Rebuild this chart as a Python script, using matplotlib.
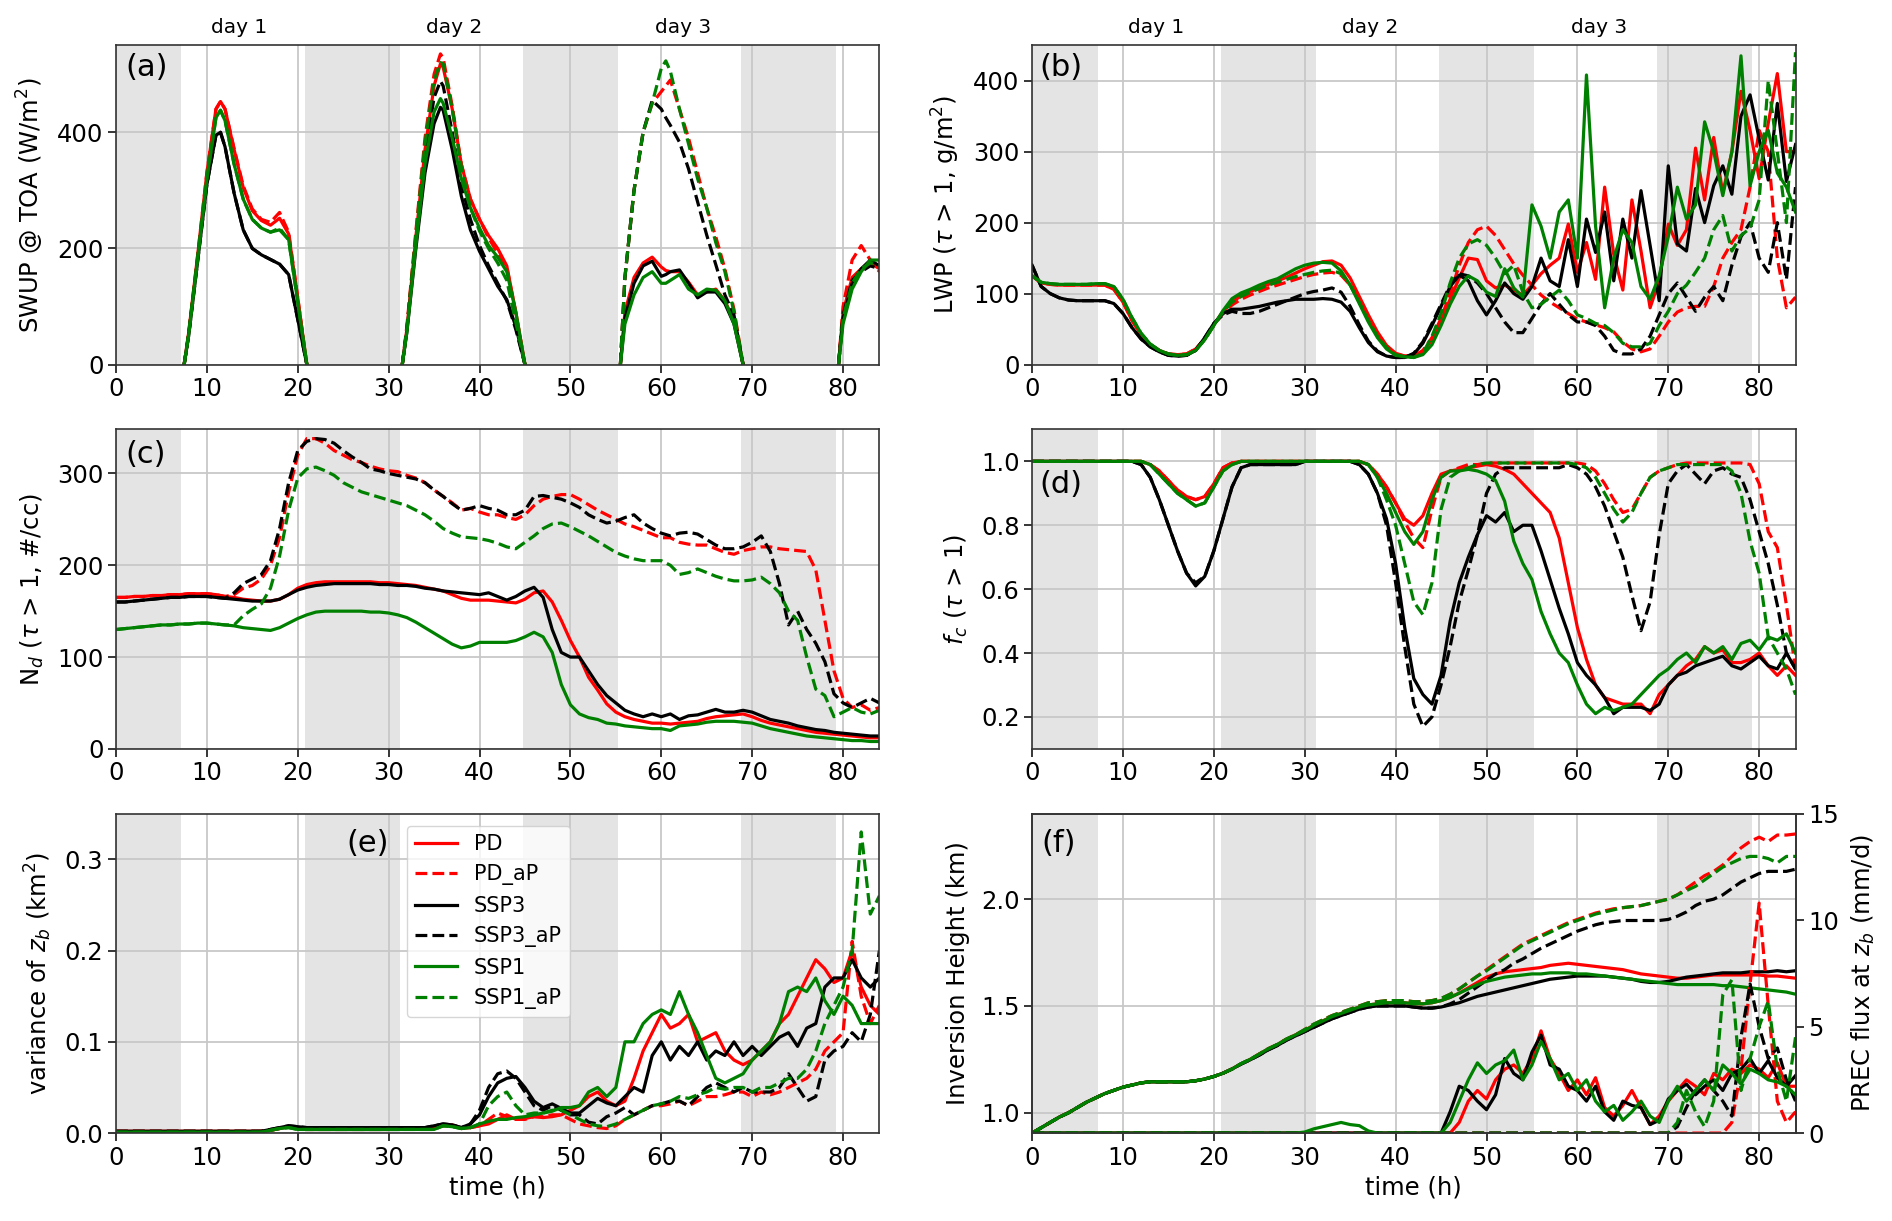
import numpy as np
import matplotlib
matplotlib.use("Agg")
import matplotlib.pyplot as plt

nan = np.nan

HOURS = np.arange(85)
NIGHTS = [(0, 7.2), (20.8, 31.2), (44.8, 55.2), (68.8, 79.2)]
DAY_NAMES = ["day 1", "day 2", "day 3"]
DAY_X = [13.6, 37.2, 62.4]

RUNS = ["PD", "PD_aP", "SSP3", "SSP3_aP", "SSP1", "SSP1_aP"]
COLORS = ["red", "red", "black", "black", "green", "green"]
STYLES = ["-", "--", "-", "--", "-", "--"]

# (a) SWUP @ TOA, daylight only
TIME_A = [7.5, 8, 9, 10, 11, 11.5, 12, 13, 14, 15, 16, 17, 18, 19, 20, 21, nan,
          31.5, 32, 33, 34, 35, 35.7, 36, 37, 38, 39, 40, 41, 42, 43, 44, 45, nan,
          55.5, 56, 57, 58, 59, 60, 60.5, 61, 62, 63, 64, 65, 66, 67, 68, 69, nan,
          79.5, 80, 81, 82, 83, 84]
pd_a = [0, 55, 190, 330, 440, 453, 440, 370, 305, 265, 248, 240, 252, 225, 115, 0, nan,
        0, 60, 220, 370, 480, 518, 512, 440, 345, 285, 250, 222, 200, 170, 90, 0, nan,
        0, 90, 150, 175, 185, 168, 162, 160, 160, 142, 120, 125, 130, 110, 75, 0, nan,
        0, 90, 150, 165, 175, 165]
pd_ap_a = [0, 55, 190, 330, 440, 453, 440, 372, 308, 268, 250, 245, 262, 228, 115, 0, nan,
           0, 65, 230, 390, 500, 535, 528, 445, 345, 285, 250, 218, 192, 168, 88, 0, nan,
           0, 150, 300, 400, 450, 470, 480, 490, 440, 390, 330, 270, 220, 165, 95, 0, nan,
           0, 100, 180, 205, 180, 160]
ssp3_a = [0, 50, 180, 310, 395, 400, 375, 295, 232, 200, 189, 181, 173, 155, 78, 0, nan,
          0, 55, 200, 330, 415, 443, 438, 370, 290, 232, 195, 165, 135, 112, 65, 0, nan,
          0, 80, 140, 170, 178, 152, 155, 160, 163, 140, 115, 125, 125, 105, 70, 0, nan,
          0, 80, 140, 165, 180, 170]
ssp3_ap_a = [0, 50, 180, 310, 395, 400, 375, 295, 232, 200, 189, 181, 173, 155, 78, 0, nan,
             0, 60, 215, 360, 460, 488, 480, 400, 310, 250, 205, 170, 140, 110, 60, 0, nan,
             0, 150, 300, 400, 455, 440, 425, 412, 383, 337, 280, 223, 172, 120, 85, 0, nan,
             0, 85, 145, 160, 170, 165]
ssp1_a = [0, 52, 185, 320, 425, 438, 420, 345, 285, 250, 235, 228, 232, 215, 108, 0, nan,
          0, 55, 205, 345, 435, 458, 450, 390, 320, 270, 235, 205, 185, 160, 90, 0, nan,
          0, 70, 120, 150, 160, 140, 140, 145, 155, 130, 120, 130, 128, 110, 70, 0, nan,
          0, 70, 130, 160, 180, 180]
ssp1_ap_a = [0, 52, 185, 320, 425, 438, 420, 345, 285, 250, 235, 228, 235, 215, 108, 0, nan,
             0, 60, 225, 380, 490, 520, 518, 440, 340, 270, 230, 200, 175, 145, 72, 0, nan,
             0, 150, 300, 400, 450, 510, 523, 505, 440, 380, 320, 270, 210, 160, 90, 0, nan,
             0, 80, 140, 165, 175, 170]

# (b) LWP
pd_b = [125, 115, 113, 112, 112, 112, 112, 112, 112, 106,
        88, 62, 42, 28, 20, 15, 14, 15, 22, 36,
        56, 75, 88, 97, 103, 108, 113, 118, 123, 129,
        135, 140, 145, 146, 140, 122, 96, 70, 46, 27,
        16, 12, 12, 18, 35, 62, 92, 122, 150, 148,
        118, 108, 112, 105, 98, 112, 128, 140, 150, 198,
        130, 172, 120, 250, 155, 105, 232, 160, 80, 118,
        198, 168, 190, 305, 232, 320, 242, 300, 385, 330,
        262, 340, 410, 300, 300]
pd_ap_b = [125, 115, 113, 112, 112, 112, 112, 112, 112, 106,
           88, 62, 42, 28, 20, 15, 14, 15, 22, 36,
           56, 72, 84, 92, 98, 103, 108, 112, 116, 120,
           124, 127, 129, 130, 126, 112, 90, 66, 44, 26,
           15, 12, 12, 20, 38, 65, 100, 140, 172, 190,
           195, 182, 162, 142, 126, 112, 98, 88, 80, 72,
           64, 60, 56, 52, 46, 32, 22, 18, 22, 40,
           60, 74, 80, 82, 82, 110, 150, 172, 190, 250,
           330, 300, 150, 80, 95]
ssp3_b = [140, 110, 100, 94, 91, 90, 90, 90, 90, 86,
          72, 52, 36, 25, 18, 13, 12, 13, 20, 38,
          58, 72, 78, 78, 80, 82, 85, 88, 90, 92,
          92, 92, 93, 92, 88, 75, 52, 31, 18, 12,
          10, 10, 15, 30, 55, 82, 110, 126, 118, 90,
          70, 90, 115, 100, 92, 110, 150, 118, 110, 176,
          110, 205, 158, 215, 118, 205, 150, 245, 168, 90,
          280, 170, 160, 248, 200, 252, 280, 240, 350, 380,
          318, 260, 368, 258, 310]
ssp3_ap_b = [140, 110, 100, 94, 91, 90, 90, 90, 90, 86,
             72, 52, 36, 25, 18, 13, 12, 13, 20, 38,
             58, 70, 75, 72, 72, 75, 80, 85, 90, 95,
             100, 103, 105, 108, 102, 82, 56, 33, 19, 12,
             10, 10, 16, 32, 58, 85, 112, 128, 125, 115,
             100, 80, 60, 45, 45, 65, 85, 100, 85, 70,
             60, 60, 55, 40, 20, 15, 15, 22, 40, 70,
             100, 115, 95, 75, 95, 110, 90, 140, 180, 200,
             150, 130, 200, 120, 250]
ssp1_b = [125, 116, 114, 113, 113, 113, 113, 114, 114, 110,
          92, 66, 44, 29, 20, 15, 13, 14, 20, 35,
          55, 76, 93, 101, 106, 112, 117, 121, 128, 135,
          140, 143, 144, 143, 132, 112, 86, 60, 38, 22,
          13, 11, 10, 14, 28, 55, 85, 110, 125, 118,
          102, 96, 135, 108, 95, 225, 195, 150, 215, 232,
          150, 408, 195, 80, 150, 190, 172, 110, 92, 125,
          180, 250, 205, 225, 342, 300, 238, 300, 435, 252,
          300, 330, 270, 250, 215]
ssp1_ap_b = [125, 116, 114, 113, 113, 113, 113, 114, 114, 110,
             92, 66, 44, 29, 20, 15, 13, 14, 20, 35,
             55, 74, 88, 96, 102, 107, 112, 116, 120, 124,
             127, 130, 132, 133, 128, 112, 88, 62, 40, 24,
             14, 11, 10, 16, 40, 72, 115, 150, 170, 176,
             168, 150, 128, 140, 102, 80, 85, 95, 105, 90,
             70, 65, 58, 55, 45, 30, 25, 25, 30, 55,
             75, 100, 112, 130, 150, 190, 210, 160, 182, 192,
             232, 400, 300, 200, 440]

# (c) droplet number
pd_c = [165, 165, 166, 166, 167, 167, 168, 168, 169, 169,
        169, 168, 166, 165, 163, 162, 161, 161, 163, 168,
        175, 179, 181, 182, 182, 182, 182, 182, 182, 181,
        181, 180, 179, 178, 176, 174, 172, 168, 164, 162,
        162, 162, 161, 160, 159, 163, 170, 172, 160, 140,
        118, 100, 78, 64, 49, 40, 35, 32, 30, 28,
        28, 27, 28, 29, 30, 33, 35, 36, 37, 38,
        35, 31, 28, 26, 24, 22, 20, 18, 17, 16,
        15, 14, 13, 12, 12]
pd_ap_c = [165, 165, 166, 166, 167, 167, 168, 168, 169, 169,
           169, 168, 166, 168, 175, 178, 185, 200, 230, 280,
           320, 338, 338, 333, 325, 320, 315, 312, 308, 305,
           303, 302, 298, 295, 290, 282, 275, 268, 260, 262,
           258, 255, 255, 252, 250, 255, 265, 272, 275, 277,
           277, 272, 266, 260, 255, 250, 245, 242, 238, 234,
           230, 230, 225, 223, 222, 222, 218, 214, 212, 216,
           218, 220, 220, 218, 217, 216, 215, 195, 140, 85,
           55, 45, 48, 42, 45]
ssp3_c = [160, 160, 161, 162, 163, 164, 165, 165, 166, 166,
          166, 165, 164, 163, 162, 161, 161, 161, 163, 168,
          173, 176, 178, 179, 180, 180, 180, 180, 180, 179,
          179, 178, 178, 177, 175, 174, 172, 171, 170, 169,
          168, 170, 166, 162, 166, 172, 176, 165, 130, 105,
          100, 100, 85, 70, 58, 50, 42, 38, 35, 38,
          35, 38, 32, 36, 37, 40, 43, 40, 40, 42,
          40, 36, 32, 30, 28, 25, 23, 21, 20, 18,
          17, 16, 15, 14, 14]
ssp3_ap_c = [160, 160, 161, 162, 163, 164, 165, 165, 166, 166,
             166, 165, 164, 170, 180, 185, 190, 205, 240, 290,
             325, 335, 338, 337, 333, 325, 318, 312, 305, 303,
             300, 298, 296, 294, 290, 282, 275, 267, 260, 262,
             265, 262, 260, 255, 255, 260, 275, 276, 274, 272,
             268, 263, 255, 250, 246, 248, 252, 255, 246, 240,
             235, 232, 235, 236, 234, 228, 222, 218, 218, 220,
             225, 232, 215, 180, 135, 150, 130, 115, 95, 60,
             50, 45, 50, 55, 50]
ssp1_c = [130, 131, 132, 133, 134, 135, 135, 136, 136, 137,
          137, 136, 135, 134, 132, 131, 130, 129, 132, 137,
          142, 146, 149, 150, 150, 150, 150, 150, 149, 149,
          148, 146, 143, 138, 132, 126, 120, 114, 110, 112,
          116, 116, 116, 116, 118, 122, 127, 122, 105, 70,
          48, 38, 34, 32, 28, 27, 25, 24, 23, 22,
          22, 20, 25, 26, 27, 29, 30, 30, 30, 29,
          28, 25, 22, 20, 18, 16, 14, 13, 12, 11,
          10, 9, 9, 8, 8]
ssp1_ap_c = [130, 131, 132, 133, 134, 135, 135, 136, 136, 137,
             137, 136, 135, 135, 145, 152, 158, 175, 210, 260,
             295, 305, 307, 303, 298, 290, 285, 280, 277, 274,
             271, 268, 265, 260, 255, 248, 240, 235, 231, 230,
             229, 227, 224, 220, 218, 225, 232, 240, 245, 246,
             242, 237, 232, 226, 220, 214, 210, 207, 205, 205,
             205, 200, 190, 192, 196, 192, 188, 185, 183, 183,
             184, 187, 180, 170, 150, 140, 100, 65, 58, 35,
             40, 45, 40, 38, 42]

# (d) cloud fraction
pd_d = [1.0, 1.0, 1.0, 1.0, 1.0, 1.0, 1.0, 1.0, 1.0, 1.0,
        1.0, 1.0, 1.0, 0.99, 0.97, 0.94, 0.91, 0.89, 0.88, 0.89,
        0.93, 0.98, 0.995, 1.0, 1.0, 1.0, 1.0, 1.0, 1.0, 1.0,
        1.0, 1.0, 1.0, 1.0, 1.0, 1.0, 1.0, 0.99, 0.96, 0.92,
        0.87, 0.82, 0.80, 0.83, 0.90, 0.96, 0.97, 0.975, 0.98, 0.985,
        0.99, 0.985, 0.975, 0.96, 0.93, 0.90, 0.87, 0.84, 0.76, 0.62,
        0.48, 0.38, 0.30, 0.26, 0.25, 0.24, 0.24, 0.24, 0.21, 0.27,
        0.30, 0.33, 0.36, 0.38, 0.42, 0.40, 0.41, 0.37, 0.37, 0.38,
        0.40, 0.36, 0.33, 0.36, 0.33]
pd_ap_d = [1.0, 1.0, 1.0, 1.0, 1.0, 1.0, 1.0, 1.0, 1.0, 1.0,
           1.0, 1.0, 1.0, 0.99, 0.97, 0.94, 0.91, 0.89, 0.88, 0.89,
           0.93, 0.98, 0.995, 1.0, 1.0, 1.0, 1.0, 1.0, 1.0, 1.0,
           1.0, 1.0, 1.0, 1.0, 1.0, 1.0, 1.0, 0.99, 0.96, 0.92,
           0.87, 0.81, 0.76, 0.73, 0.85, 0.95, 0.97, 0.98, 0.99, 0.99,
           0.995, 0.995, 0.995, 0.995, 0.995, 0.995, 0.995, 0.995, 0.995, 0.995,
           0.995, 0.99, 0.97, 0.93, 0.88, 0.84, 0.85, 0.90, 0.95, 0.97,
           0.98, 0.99, 0.995, 0.995, 0.995, 0.995, 0.995, 0.995, 0.995, 0.99,
           0.93, 0.78, 0.73, 0.55, 0.35]
ssp3_d = [1.0, 1.0, 1.0, 1.0, 1.0, 1.0, 1.0, 1.0, 1.0, 1.0,
          1.0, 1.0, 0.99, 0.95, 0.88, 0.80, 0.72, 0.65, 0.61, 0.64,
          0.72, 0.82, 0.92, 0.98, 0.99, 0.99, 0.99, 0.99, 0.99, 0.99,
          1.0, 1.0, 1.0, 1.0, 1.0, 1.0, 0.99, 0.96, 0.90, 0.82,
          0.68, 0.48, 0.32, 0.27, 0.24, 0.33, 0.50, 0.62, 0.70, 0.77,
          0.83, 0.81, 0.84, 0.78, 0.80, 0.80, 0.72, 0.63, 0.54, 0.46,
          0.37, 0.33, 0.30, 0.26, 0.21, 0.23, 0.23, 0.23, 0.22, 0.24,
          0.30, 0.33, 0.34, 0.36, 0.37, 0.38, 0.39, 0.36, 0.35, 0.37,
          0.39, 0.36, 0.35, 0.40, 0.35]
ssp3_ap_d = [1.0, 1.0, 1.0, 1.0, 1.0, 1.0, 1.0, 1.0, 1.0, 1.0,
             1.0, 1.0, 0.99, 0.95, 0.88, 0.80, 0.72, 0.65, 0.62, 0.64,
             0.72, 0.82, 0.92, 0.98, 0.99, 0.99, 0.99, 0.99, 0.99, 0.99,
             1.0, 1.0, 1.0, 1.0, 1.0, 1.0, 0.99, 0.96, 0.90, 0.80,
             0.62, 0.42, 0.24, 0.17, 0.20, 0.30, 0.42, 0.56, 0.66, 0.77,
             0.90, 0.96, 0.98, 0.98, 0.98, 0.98, 0.98, 0.98, 0.98, 0.99,
             0.98, 0.96, 0.92, 0.86, 0.78, 0.70, 0.58, 0.47, 0.56, 0.77,
             0.93, 0.97, 0.99, 0.96, 0.93, 0.97, 0.98, 0.96, 0.95, 0.88,
             0.78, 0.68, 0.55, 0.40, 0.35]
ssp1_d = [1.0, 1.0, 1.0, 1.0, 1.0, 1.0, 1.0, 1.0, 1.0, 1.0,
          1.0, 1.0, 1.0, 0.99, 0.96, 0.93, 0.90, 0.88, 0.86, 0.87,
          0.92, 0.97, 0.99, 1.0, 1.0, 1.0, 1.0, 1.0, 1.0, 1.0,
          1.0, 1.0, 1.0, 1.0, 1.0, 1.0, 1.0, 0.99, 0.95, 0.90,
          0.84, 0.78, 0.74, 0.78, 0.88, 0.95, 0.97, 0.97, 0.975, 0.97,
          0.96, 0.94, 0.875, 0.75, 0.68, 0.63, 0.53, 0.46, 0.40, 0.37,
          0.30, 0.24, 0.21, 0.23, 0.22, 0.23, 0.24, 0.27, 0.30, 0.33,
          0.35, 0.38, 0.40, 0.37, 0.42, 0.40, 0.42, 0.38, 0.43, 0.44,
          0.41, 0.45, 0.44, 0.46, 0.40]
ssp1_ap_d = [1.0, 1.0, 1.0, 1.0, 1.0, 1.0, 1.0, 1.0, 1.0, 1.0,
             1.0, 1.0, 1.0, 0.99, 0.96, 0.93, 0.90, 0.88, 0.86, 0.87,
             0.92, 0.97, 0.99, 1.0, 1.0, 1.0, 1.0, 1.0, 1.0, 1.0,
             1.0, 1.0, 1.0, 1.0, 1.0, 1.0, 1.0, 0.99, 0.95, 0.88,
             0.80, 0.68, 0.56, 0.52, 0.62, 0.85, 0.95, 0.97, 0.98, 0.99,
             0.995, 0.995, 0.995, 0.995, 0.995, 0.995, 0.995, 0.995, 0.995, 0.995,
             0.99, 0.98, 0.95, 0.90, 0.85, 0.81, 0.84, 0.90, 0.95, 0.97,
             0.98, 0.99, 0.99, 0.99, 0.99, 0.99, 0.99, 0.97, 0.90, 0.75,
             0.65, 0.45, 0.40, 0.35, 0.27]

# (e) variance of cloud base height
pd_e = [0.002, 0.002, 0.002, 0.002, 0.002, 0.002, 0.002, 0.002, 0.002, 0.002,
        0.002, 0.002, 0.002, 0.002, 0.002, 0.002, 0.002, 0.003, 0.005, 0.007,
        0.006, 0.004, 0.004, 0.004, 0.004, 0.004, 0.004, 0.004, 0.004, 0.004,
        0.004, 0.006, 0.006, 0.006, 0.006, 0.006, 0.008, 0.009, 0.005, 0.006,
        0.008, 0.010, 0.015, 0.020, 0.015, 0.016, 0.018, 0.017, 0.018, 0.020,
        0.025, 0.030, 0.040, 0.045, 0.035, 0.030, 0.035, 0.060, 0.090, 0.110,
        0.130, 0.115, 0.120, 0.130, 0.100, 0.105, 0.110, 0.090, 0.080, 0.075,
        0.080, 0.090, 0.100, 0.120, 0.130, 0.150, 0.170, 0.190, 0.180, 0.165,
        0.170, 0.200, 0.160, 0.140, 0.130]
pd_ap_e = [0.002, 0.002, 0.002, 0.002, 0.002, 0.002, 0.002, 0.002, 0.002, 0.002,
           0.002, 0.002, 0.002, 0.002, 0.002, 0.002, 0.002, 0.003, 0.005, 0.007,
           0.006, 0.004, 0.004, 0.004, 0.004, 0.004, 0.004, 0.004, 0.004, 0.004,
           0.004, 0.006, 0.006, 0.006, 0.006, 0.006, 0.008, 0.009, 0.005, 0.006,
           0.008, 0.015, 0.022, 0.018, 0.015, 0.015, 0.018, 0.018, 0.020, 0.020,
           0.015, 0.010, 0.008, 0.006, 0.005, 0.008, 0.015, 0.020, 0.025, 0.030,
           0.030, 0.032, 0.035, 0.030, 0.035, 0.040, 0.040, 0.042, 0.045, 0.045,
           0.040, 0.045, 0.042, 0.045, 0.050, 0.055, 0.060, 0.070, 0.090, 0.100,
           0.110, 0.210, 0.150, 0.120, 0.140]
ssp3_e = [0.002, 0.002, 0.002, 0.002, 0.002, 0.002, 0.002, 0.002, 0.002, 0.002,
          0.002, 0.002, 0.002, 0.002, 0.002, 0.002, 0.002, 0.004, 0.006, 0.008,
          0.007, 0.006, 0.006, 0.006, 0.006, 0.006, 0.006, 0.006, 0.006, 0.006,
          0.006, 0.006, 0.006, 0.006, 0.006, 0.008, 0.010, 0.009, 0.006, 0.010,
          0.020, 0.040, 0.055, 0.060, 0.062, 0.050, 0.035, 0.028, 0.032, 0.027,
          0.022, 0.022, 0.030, 0.038, 0.033, 0.030, 0.040, 0.050, 0.045, 0.085,
          0.100, 0.080, 0.095, 0.085, 0.100, 0.080, 0.090, 0.085, 0.100, 0.085,
          0.095, 0.085, 0.095, 0.105, 0.110, 0.095, 0.115, 0.120, 0.160, 0.170,
          0.170, 0.190, 0.170, 0.160, 0.170]
ssp3_ap_e = [0.002, 0.002, 0.002, 0.002, 0.002, 0.002, 0.002, 0.002, 0.002, 0.002,
             0.002, 0.002, 0.002, 0.002, 0.002, 0.002, 0.002, 0.004, 0.006, 0.008,
             0.007, 0.006, 0.006, 0.006, 0.006, 0.006, 0.006, 0.006, 0.006, 0.006,
             0.006, 0.006, 0.006, 0.006, 0.006, 0.008, 0.010, 0.009, 0.006, 0.010,
             0.025, 0.050, 0.065, 0.068, 0.060, 0.045, 0.030, 0.025, 0.030, 0.025,
             0.020, 0.020, 0.012, 0.010, 0.018, 0.022, 0.028, 0.020, 0.025, 0.030,
             0.032, 0.035, 0.035, 0.030, 0.040, 0.050, 0.055, 0.050, 0.045, 0.050,
             0.045, 0.045, 0.045, 0.050, 0.065, 0.050, 0.035, 0.040, 0.080, 0.090,
             0.095, 0.110, 0.100, 0.130, 0.200]
ssp1_e = [0.001, 0.001, 0.001, 0.001, 0.001, 0.001, 0.001, 0.001, 0.001, 0.001,
          0.001, 0.001, 0.001, 0.001, 0.001, 0.001, 0.001, 0.003, 0.005, 0.006,
          0.004, 0.004, 0.004, 0.004, 0.004, 0.004, 0.004, 0.004, 0.004, 0.004,
          0.004, 0.004, 0.004, 0.004, 0.004, 0.004, 0.008, 0.007, 0.005, 0.006,
          0.010, 0.013, 0.015, 0.015, 0.017, 0.018, 0.020, 0.022, 0.024, 0.028,
          0.028, 0.030, 0.045, 0.050, 0.040, 0.050, 0.100, 0.100, 0.120, 0.130,
          0.135, 0.130, 0.155, 0.130, 0.110, 0.085, 0.060, 0.055, 0.060, 0.065,
          0.080, 0.090, 0.100, 0.120, 0.155, 0.160, 0.155, 0.170, 0.145, 0.130,
          0.150, 0.140, 0.120, 0.120, 0.120]
ssp1_ap_e = [0.001, 0.001, 0.001, 0.001, 0.001, 0.001, 0.001, 0.001, 0.001, 0.001,
             0.001, 0.001, 0.001, 0.001, 0.001, 0.001, 0.001, 0.003, 0.005, 0.006,
             0.004, 0.004, 0.004, 0.004, 0.004, 0.004, 0.004, 0.004, 0.004, 0.004,
             0.004, 0.004, 0.004, 0.004, 0.004, 0.004, 0.008, 0.007, 0.005, 0.006,
             0.010, 0.030, 0.040, 0.045, 0.030, 0.020, 0.022, 0.022, 0.025, 0.025,
             0.020, 0.015, 0.010, 0.008, 0.007, 0.010, 0.015, 0.020, 0.025, 0.030,
             0.032, 0.035, 0.040, 0.038, 0.042, 0.045, 0.050, 0.048, 0.050, 0.050,
             0.045, 0.050, 0.050, 0.055, 0.060, 0.060, 0.070, 0.090, 0.120, 0.140,
             0.160, 0.200, 0.330, 0.240, 0.260]

# (f) inversion height (left axis)
pd_f = [0.905, 0.93, 0.955, 0.98, 1.0, 1.025, 1.05, 1.07, 1.09, 1.105,
        1.12, 1.13, 1.14, 1.145, 1.145, 1.145, 1.145, 1.145, 1.15, 1.158,
        1.17, 1.185, 1.205, 1.23, 1.25, 1.275, 1.30, 1.32, 1.345, 1.365,
        1.385, 1.41, 1.43, 1.45, 1.465, 1.48, 1.495, 1.505, 1.51, 1.515,
        1.515, 1.515, 1.51, 1.51, 1.515, 1.525, 1.54, 1.56, 1.585, 1.61,
        1.635, 1.65, 1.66, 1.665, 1.67, 1.675, 1.68, 1.69, 1.695, 1.70,
        1.695, 1.69, 1.685, 1.68, 1.675, 1.67, 1.66, 1.65, 1.645, 1.64,
        1.635, 1.63, 1.63, 1.635, 1.64, 1.645, 1.645, 1.645, 1.645, 1.645,
        1.645, 1.64, 1.64, 1.635, 1.63]
pd_ap_f = [0.905, 0.93, 0.955, 0.98, 1.0, 1.025, 1.05, 1.07, 1.09, 1.105,
           1.12, 1.13, 1.14, 1.145, 1.145, 1.145, 1.145, 1.145, 1.15, 1.158,
           1.17, 1.185, 1.205, 1.23, 1.25, 1.275, 1.30, 1.32, 1.345, 1.365,
           1.39, 1.415, 1.435, 1.455, 1.47, 1.485, 1.50, 1.515, 1.52, 1.525,
           1.525, 1.525, 1.52, 1.52, 1.525, 1.535, 1.555, 1.58, 1.61, 1.64,
           1.67, 1.70, 1.73, 1.76, 1.79, 1.81, 1.83, 1.85, 1.87, 1.89,
           1.905, 1.92, 1.935, 1.945, 1.955, 1.96, 1.965, 1.97, 1.98, 1.99,
           2.0, 2.02, 2.05, 2.08, 2.11, 2.13, 2.16, 2.20, 2.24, 2.27,
           2.29, 2.27, 2.30, 2.30, 2.305]
ssp3_f = [0.905, 0.93, 0.955, 0.98, 1.0, 1.025, 1.05, 1.07, 1.09, 1.105,
          1.12, 1.13, 1.14, 1.145, 1.145, 1.145, 1.145, 1.145, 1.15, 1.158,
          1.17, 1.185, 1.205, 1.228, 1.248, 1.27, 1.295, 1.315, 1.34, 1.36,
          1.38, 1.40, 1.42, 1.44, 1.455, 1.47, 1.485, 1.495, 1.50, 1.50,
          1.50, 1.50, 1.495, 1.49, 1.49, 1.495, 1.505, 1.515, 1.53, 1.545,
          1.555, 1.565, 1.575, 1.585, 1.595, 1.605, 1.615, 1.625, 1.63, 1.635,
          1.64, 1.64, 1.64, 1.64, 1.635, 1.63, 1.625, 1.615, 1.61, 1.61,
          1.615, 1.625, 1.635, 1.64, 1.645, 1.65, 1.655, 1.655, 1.655, 1.66,
          1.66, 1.66, 1.665, 1.66, 1.665]
ssp3_ap_f = [0.905, 0.93, 0.955, 0.98, 1.0, 1.025, 1.05, 1.07, 1.09, 1.105,
             1.12, 1.13, 1.14, 1.145, 1.145, 1.145, 1.145, 1.145, 1.15, 1.158,
             1.17, 1.185, 1.205, 1.228, 1.248, 1.27, 1.295, 1.315, 1.34, 1.36,
             1.38, 1.40, 1.42, 1.44, 1.455, 1.47, 1.485, 1.495, 1.50, 1.50,
             1.50, 1.50, 1.495, 1.49, 1.49, 1.495, 1.51, 1.53, 1.56, 1.59,
             1.62, 1.65, 1.67, 1.70, 1.72, 1.745, 1.77, 1.79, 1.81, 1.83,
             1.85, 1.865, 1.88, 1.89, 1.895, 1.90, 1.90, 1.90, 1.90, 1.90,
             1.905, 1.92, 1.94, 1.97, 1.99, 2.0, 2.02, 2.05, 2.08, 2.10,
             2.12, 2.13, 2.13, 2.13, 2.14]
ssp1_f = [0.905, 0.93, 0.955, 0.98, 1.0, 1.025, 1.05, 1.07, 1.09, 1.105,
          1.12, 1.13, 1.14, 1.145, 1.145, 1.145, 1.145, 1.145, 1.15, 1.158,
          1.17, 1.185, 1.205, 1.23, 1.25, 1.275, 1.30, 1.32, 1.345, 1.365,
          1.385, 1.41, 1.43, 1.45, 1.465, 1.48, 1.495, 1.505, 1.51, 1.515,
          1.515, 1.515, 1.51, 1.51, 1.515, 1.525, 1.54, 1.56, 1.58, 1.60,
          1.615, 1.625, 1.635, 1.64, 1.645, 1.65, 1.65, 1.655, 1.655, 1.655,
          1.65, 1.65, 1.645, 1.64, 1.635, 1.63, 1.625, 1.62, 1.615, 1.61,
          1.605, 1.60, 1.60, 1.60, 1.60, 1.60, 1.595, 1.595, 1.59, 1.585,
          1.58, 1.575, 1.57, 1.565, 1.555]
ssp1_ap_f = [0.905, 0.93, 0.955, 0.98, 1.0, 1.025, 1.05, 1.07, 1.09, 1.105,
             1.12, 1.13, 1.14, 1.145, 1.145, 1.145, 1.145, 1.145, 1.15, 1.158,
             1.17, 1.185, 1.205, 1.23, 1.25, 1.275, 1.30, 1.32, 1.345, 1.365,
             1.39, 1.415, 1.435, 1.455, 1.47, 1.485, 1.50, 1.515, 1.52, 1.525,
             1.525, 1.525, 1.52, 1.52, 1.525, 1.535, 1.555, 1.58, 1.61, 1.64,
             1.665, 1.695, 1.725, 1.755, 1.785, 1.805, 1.825, 1.845, 1.865, 1.885,
             1.90, 1.915, 1.93, 1.94, 1.95, 1.96, 1.965, 1.97, 1.98, 1.99,
             2.0, 2.02, 2.04, 2.06, 2.09, 2.12, 2.15, 2.17, 2.19, 2.20,
             2.20, 2.19, 2.17, 2.20, 2.20]

# (f) precipitation flux at cloud base (right axis)
pd_p = [0, 0, 0, 0, 0, 0, 0, 0, 0, 0,
        0, 0, 0, 0, 0, 0, 0, 0, 0, 0,
        0, 0, 0, 0, 0, 0, 0, 0, 0, 0,
        0, 0, 0, 0, 0, 0, 0, 0, 0, 0,
        0, 0, 0, 0, 0, 0, 0, 0.5, 1.5, 2.0,
        1.6, 2.5, 3.0, 3.2, 2.8, 3.5, 4.8, 3.5, 2.8, 2.0,
        2.5, 1.8, 2.6, 1.2, 0.8, 1.3, 2.0, 1.2, 0.4, 0.8,
        1.5, 2.0, 2.5, 2.2, 1.8, 2.8, 2.5, 3.0, 2.8, 3.2,
        3.0, 2.6, 3.3, 2.2, 2.2]
pd_ap_p = [0, 0, 0, 0, 0, 0, 0, 0, 0, 0,
           0, 0, 0, 0, 0, 0, 0, 0, 0, 0,
           0, 0, 0, 0, 0, 0, 0, 0, 0, 0,
           0, 0, 0, 0, 0, 0, 0, 0, 0, 0,
           0, 0, 0, 0, 0, 0, 0, 0, 0, 0,
           0, 0, 0, 0, 0, 0, 0, 0, 0, 0,
           0, 0, 0, 0, 0, 0, 0, 0, 0, 0,
           0, 0, 0, 0, 0, 0, 0, 0.5, 3.0, 7.0,
           10.8, 6.0, 1.5, 0.5, 1.0]
ssp3_p = [0, 0, 0, 0, 0, 0, 0, 0, 0, 0,
          0, 0, 0, 0, 0, 0, 0, 0, 0, 0,
          0, 0, 0, 0, 0, 0, 0, 0, 0, 0,
          0, 0, 0, 0, 0, 0, 0, 0, 0, 0,
          0, 0, 0, 0, 0, 0, 1.0, 2.2, 2.0, 1.5,
          1.1, 1.8, 3.5, 2.8, 2.5, 3.8, 4.6, 3.2, 3.0, 2.2,
          2.0, 1.5, 2.2, 1.0, 0.6, 1.5, 1.3, 1.2, 0.4, 0.6,
          1.6, 2.0, 2.3, 1.8, 2.2, 2.5, 2.0, 2.8, 3.0, 3.5,
          2.8, 3.4, 2.6, 2.2, 2.7]
ssp3_ap_p = [0, 0, 0, 0, 0, 0, 0, 0, 0, 0,
             0, 0, 0, 0, 0, 0, 0, 0, 0, 0,
             0, 0, 0, 0, 0, 0, 0, 0, 0, 0,
             0, 0, 0, 0, 0, 0, 0, 0, 0, 0,
             0, 0, 0, 0, 0, 0, 0, 0, 0, 0,
             0, 0, 0, 0, 0, 0, 0, 0, 0, 0,
             0, 0, 0, 0, 0, 0, 0, 0, 0, 0,
             0, 0.3, 1.2, 2.0, 2.5, 2.0, 1.5, 0.8, 4.5, 7.0,
             5.0, 3.5, 4.0, 2.5, 1.5]
ssp1_p = [0, 0, 0, 0, 0, 0, 0, 0, 0, 0,
          0, 0, 0, 0, 0, 0, 0, 0, 0, 0,
          0, 0, 0, 0, 0, 0, 0, 0, 0, 0,
          0.05, 0.2, 0.3, 0.4, 0.5, 0.4, 0.35, 0.1, 0, 0,
          0, 0, 0, 0, 0, 0, 0.5, 1.5, 2.5, 3.3,
          2.8, 3.2, 3.4, 3.9, 2.5, 3.2, 4.3, 3.5, 2.5, 2.8,
          2.0, 2.5, 1.5, 1.0, 1.3, 0.6, 1.0, 1.5, 0.8, 0.5,
          1.5, 2.2, 1.5, 2.0, 2.5, 2.0, 3.2, 2.8, 2.3, 3.0,
          2.8, 2.5, 2.4, 2.2, 1.8]
ssp1_ap_p = [0, 0, 0, 0, 0, 0, 0, 0, 0, 0,
             0, 0, 0, 0, 0, 0, 0, 0, 0, 0,
             0, 0, 0, 0, 0, 0, 0, 0, 0, 0,
             0, 0, 0, 0, 0, 0, 0, 0, 0, 0,
             0, 0, 0, 0, 0, 0, 0, 0, 0, 0,
             0, 0, 0, 0, 0, 0, 0, 0, 0, 0,
             0, 0, 0, 0, 0, 0, 0, 0, 0, 0,
             0, 0.5, 2.0, 1.0, 0.3, 1.5, 6.5, 7.2, 2.0, 3.5,
             5.0, 6.2, 3.0, 1.5, 4.5]


def decorate(ax):
    for start, end in NIGHTS:
        ax.axvspan(start, end, color="lightgray", alpha=0.6, lw=0, zorder=0)
    ax.set_axisbelow(True)
    ax.grid(True, color="#c8c8c8", lw=1.3)
    ax.set_xlim(0, 84)
    ax.set_xticks(range(0, 90, 10))


def draw(ax, x, series):
    for y, name, color, style in zip(series, RUNS, COLORS, STYLES):
        ax.plot(x, y, color=color, ls=style, lw=2.3, label=name)


plt.rcParams["font.size"] = 17.5
plt.rcParams["axes.linewidth"] = 1.2
plt.rcParams["axes.edgecolor"] = "#333333"
plt.rcParams["axes.labelpad"] = 8
plt.rcParams["xtick.major.size"] = 5.5
plt.rcParams["ytick.major.size"] = 5.5
plt.rcParams["xtick.major.width"] = 1.1
plt.rcParams["ytick.major.width"] = 1.1

fig, axes = plt.subplots(3, 2, figsize=(18.92, 12.21), dpi=100)
fig.subplots_adjust(left=0.0613, right=0.949, bottom=0.072, top=0.963,
                    wspace=0.2, hspace=0.203)
ax_a, ax_b = axes[0]
ax_c, ax_d = axes[1]
ax_e, ax_f = axes[2]

for ax in axes.flat:
    decorate(ax)

draw(ax_a, TIME_A, [pd_a, pd_ap_a, ssp3_a, ssp3_ap_a, ssp1_a, ssp1_ap_a])
ax_a.set_ylim(0, 550)
ax_a.set_yticks([0, 200, 400])
ax_a.set_ylabel("SWUP @ TOA (W/m$^2$)")

draw(ax_b, HOURS, [pd_b, pd_ap_b, ssp3_b, ssp3_ap_b, ssp1_b, ssp1_ap_b])
ax_b.set_ylim(0, 450)
ax_b.set_yticks([0, 100, 200, 300, 400])
ax_b.set_ylabel("LWP ($\\tau$ > 1, g/m$^2$)")

draw(ax_c, HOURS, [pd_c, pd_ap_c, ssp3_c, ssp3_ap_c, ssp1_c, ssp1_ap_c])
ax_c.set_ylim(0, 348)
ax_c.set_yticks([0, 100, 200, 300])
ax_c.set_ylabel("N$_d$ ($\\tau$ > 1, #/cc)")

draw(ax_d, HOURS, [pd_d, pd_ap_d, ssp3_d, ssp3_ap_d, ssp1_d, ssp1_ap_d])
ax_d.set_ylim(0.1, 1.1)
ax_d.set_yticks([0.2, 0.4, 0.6, 0.8, 1.0])
ax_d.set_ylabel("$f_c$ ($\\tau$ > 1)")

draw(ax_e, HOURS, [pd_e, pd_ap_e, ssp3_e, ssp3_ap_e, ssp1_e, ssp1_ap_e])
ax_e.set_ylim(0, 0.35)
ax_e.set_yticks([0.0, 0.1, 0.2, 0.3])
ax_e.set_ylabel("variance of $z_b$ (km$^2$)")
ax_e.set_xlabel("time (h)", labelpad=4)
ax_e.legend(loc="upper left", bbox_to_anchor=(0.381, 0.9625), borderaxespad=0,
            fontsize=15)

draw(ax_f, HOURS, [pd_f, pd_ap_f, ssp3_f, ssp3_ap_f, ssp1_f, ssp1_ap_f])
ax_f.set_ylim(0.905, 2.4)
ax_f.set_yticks([1.0, 1.5, 2.0])
ax_f.set_ylabel("Inversion Height (km)")
ax_f.set_xlabel("time (h)", labelpad=4)
ax_p = ax_f.twinx()
draw(ax_p, HOURS, [pd_p, pd_ap_p, ssp3_p, ssp3_ap_p, ssp1_p, ssp1_ap_p])
ax_p.set_ylim(0, 15)
ax_p.set_yticks([0, 5, 10, 15])
ax_p.set_ylabel("PREC flux at $z_b$ (mm/d)")

panel_tags = [(ax_a, "(a)", 0.012, 0.93), (ax_b, "(b)", 0.01, 0.93),
              (ax_c, "(c)", 0.012, 0.922), (ax_d, "(d)", 0.01, 0.828),
              (ax_e, "(e)", 0.302, 0.906), (ax_f, "(f)", 0.012, 0.906)]
for ax, tag, x, y in panel_tags:
    ax.text(x, y, tag, transform=ax.transAxes, fontsize=22, va="center", ha="left",
            zorder=5)

for ax in (ax_a, ax_b):
    for x, name in zip(DAY_X, DAY_NAMES):
        ax.text(x, 1.055, name, transform=ax.get_xaxis_transform(), fontsize=14.5,
                ha="center", va="center")

fig.savefig("out.png", dpi=100)
